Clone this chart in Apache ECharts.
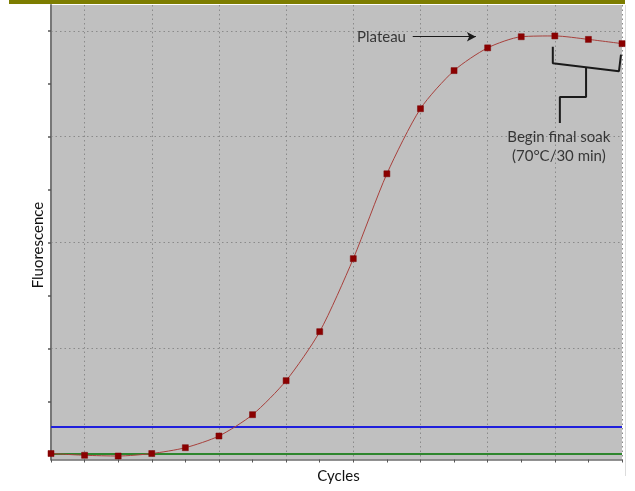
<!DOCTYPE html>
<html>
<head>
<meta charset="utf-8">
<script src="https://cdn.jsdelivr.net/npm/echarts@6/dist/echarts.min.js"></script>
<style>
html,body{margin:0;padding:0;background:#fff;}
#c{width:635px;height:491px;}
</style>
</head>
<body>
<div id="c"></div>
<script>
// ---- data ----
var cycles = [0,1,2,3,4,5,6,7,8,9,10,11,12,13,14,15,16,17];
var fluorescence = [0.013,-0.02,-0.034,0.013,0.123,0.344,0.747,1.39,2.316,3.696,5.30,6.53,7.25,7.68,7.89,7.905,7.84,7.76];
var thresholdValue = 0.514;   // blue line
var baselineValue = 0.01;     // green line
var yTickValues = [0,1,2,3,4,5,6,7,8];
var yGridValues = [0,2,4,6,8];
var xTickValues = [0,1,2,3,4,5,6,7,8,9,10,11,12,13,14,15,16,17];
var xGridValues = [1,3,5,7,9,11,13,15,17];
var xLabel = 'Cycles';
var yLabel = 'Fluorescence';
// annotations (in data coordinates)
var plateauText = 'Plateau';
var plateauTextPos = [9.84, 7.88];
var plateauArrow = [[10.77, 7.89], [12.65, 7.89]];
var soakText = 'Begin final soak\n(70°C/30 min)';
var soakTextPos = [15.12, 5.82];
var bracketPath = [[14.94, 7.70], [14.94, 7.39], [16.91, 7.24], [16.97, 7.55]];
var stemPath = [[15.93, 7.31], [15.93, 6.75], [15.15, 6.75], [15.15, 6.26]];

var FONT = 'Lato';
var FS = 15;
var chart = echarts.init(document.getElementById('c'), null, {renderer:'canvas'});

var dotted = {color:'#8a8a8a', width:1, type:[1.5,3]};

chart.setOption({
  animation:false,
  backgroundColor:'#ffffff',
  grid:{left:51, right:13, top:5, bottom:31.5, show:true, backgroundColor:'#c0c0c0', borderWidth:0},
  graphic:[
    {type:'rect', shape:{x:9, y:0, width:616, height:4}, style:{fill:'#7d7d00'}, z:100},
    {type:'line', shape:{x1:625.5, y1:5, x2:625.5, y2:476}, style:{stroke:'#dcdcdc', lineWidth:1}},
    {type:'text', x:38, y:245, rotation:Math.PI/2, z:100,
     style:{text:yLabel, font:FS + 'px ' + FONT, fill:'#111', align:'center', verticalAlign:'middle'}}
  ],
  xAxis:[
    {type:'value', min:0, max:17, position:'bottom',
     name:xLabel, nameLocation:'middle', nameGap:9,
     nameTextStyle:{fontFamily:FONT, fontSize:FS, color:'#111', verticalAlign:'top', padding:[0,0,0,4]},
     axisLine:{show:true, onZero:false, lineStyle:{color:'#6e6e6e', width:1.5}},
     axisTick:{show:true, length:3, customValues:xTickValues, lineStyle:{color:'#555', width:1}},
     axisLabel:{show:false}, splitLine:{show:false}},
    {type:'value', min:0, max:17, position:'bottom',
     axisLine:{show:false}, axisTick:{show:false, customValues:xGridValues},
     axisLabel:{show:false}, splitLine:{show:true, lineStyle:dotted}}
  ],
  yAxis:[
    {type:'value', min:-0.1, max:8.49, position:'left',
     axisLine:{show:true, onZero:false, lineStyle:{color:'#777', width:2}},
     axisTick:{show:true, length:3, customValues:yTickValues, lineStyle:{color:'#555', width:1.5}},
     axisLabel:{show:false}, splitLine:{show:false}},
    {type:'value', min:-0.1, max:8.49, position:'left',
     axisLine:{show:false}, axisTick:{show:false, customValues:yGridValues},
     axisLabel:{show:false}, splitLine:{show:true, lineStyle:dotted}}
  ],
  series:[
    {type:'line', xAxisIndex:0, yAxisIndex:0, silent:true, data:[], z:3,
     markLine:{silent:true, symbol:['none','none'], label:{show:false},
       data:[
         {yAxis:thresholdValue, lineStyle:{color:'#1f1fdc', width:2, type:'solid'}},
         {yAxis:baselineValue, lineStyle:{color:'#2e862e', width:2, type:'solid'}}
       ]}},
    {type:'line', xAxisIndex:0, yAxisIndex:0, z:5, clip:false,
     data:cycles.map(function(c,i){return [c, fluorescence[i]];}),
     smooth:0.25,
     lineStyle:{color:'#a8403c', width:1},
     symbol:'rect', symbolSize:6,
     itemStyle:{color:'#8b0000', borderColor:'#7a0000', borderWidth:0.5}},
    {type:'line', xAxisIndex:0, yAxisIndex:0, z:6, clip:false, data:bracketPath,
     symbol:'none', lineStyle:{color:'#1a1a1a', width:2}},
    {type:'line', xAxisIndex:0, yAxisIndex:0, z:6, clip:false, data:stemPath,
     symbol:'none', lineStyle:{color:'#1a1a1a', width:2}},
    {type:'line', xAxisIndex:0, yAxisIndex:0, z:6, data:[],
     markLine:{silent:true, symbol:['none','arrow'], symbolSize:[7,9], label:{show:false},
       lineStyle:{color:'#1a1a1a', width:1.2, type:'solid'},
       data:[[{coord:plateauArrow[0]},{coord:plateauArrow[1]}]]}},
    {type:'scatter', xAxisIndex:0, yAxisIndex:0, z:7, symbolSize:1,
     itemStyle:{color:'rgba(0,0,0,0)'},
     label:{show:true, position:'inside', formatter:plateauText, fontFamily:FONT, fontSize:FS, color:'#111'},
     data:[plateauTextPos]},
    {type:'scatter', xAxisIndex:0, yAxisIndex:0, z:7, symbolSize:1,
     itemStyle:{color:'rgba(0,0,0,0)'},
     label:{show:true, position:'inside', formatter:soakText, fontFamily:FONT, fontSize:FS, lineHeight:19, align:'center', color:'#111'},
     data:[soakTextPos]}
  ]
});
</script>
</body>
</html>
